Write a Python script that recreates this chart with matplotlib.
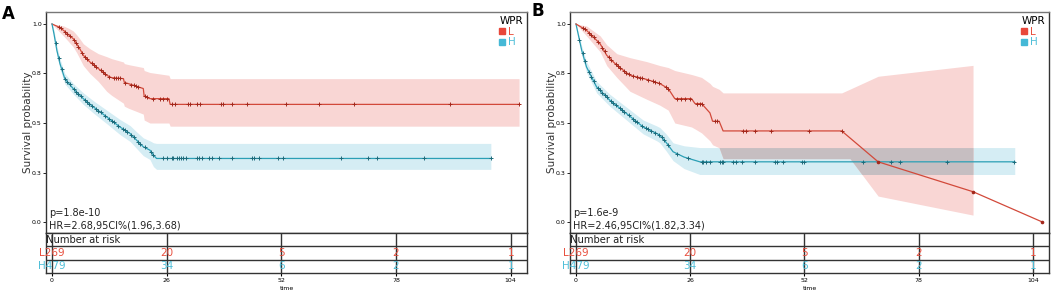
import numpy as np
import matplotlib.pyplot as plt
from matplotlib.lines import Line2D

# ---------------- data ----------------
# panel A, group L (low WPR)
a_l_t = [0, 1.5, 2.6, 3.8, 4.8, 5.6, 6.3, 7.1, 8.6, 10.5, 12.4, 13.5, 16.2, 16.4, 17.3, 20.7,
         20.9, 22.2, 26.5, 26.8, 105.9]
a_l_s = [1.0, 0.985, 0.968, 0.945, 0.926, 0.90, 0.875, 0.842, 0.808, 0.775, 0.741, 0.729, 0.724,
         0.705, 0.699, 0.674, 0.635, 0.623, 0.623, 0.594, 0.594]
a_l_hi = [1.0, 0.995, 0.99, 0.978, 0.965, 0.945, 0.925, 0.90, 0.875, 0.85, 0.835, 0.825, 0.808,
          0.80, 0.795, 0.78, 0.765, 0.755, 0.741, 0.724, 0.724]
a_l_lo = [1.0, 0.965, 0.94, 0.91, 0.885, 0.855, 0.825, 0.79, 0.75, 0.71, 0.66, 0.64, 0.60,
          0.585, 0.575, 0.545, 0.515, 0.50, 0.50, 0.484, 0.484]
a_l_cens = [1.5, 2.0, 3.0, 3.5, 4.0, 5.0, 5.5, 6.0, 6.8, 7.5, 8.0, 9.0, 9.5, 10.0, 11.0, 11.5,
            12.0, 13.0, 14.0, 14.5, 15.0, 15.5, 16.5, 18.0, 18.5, 19.0, 19.5, 21.0, 21.5, 23.0,
            24.5, 25.2, 26.0, 27.1, 27.9, 30.9, 31.3, 32.8, 33.6, 38.3, 38.7, 40.7, 44.3, 53.1,
            60.5, 68.5, 90.2, 105.9]

# panel A, group H (high WPR)
a_h_t = [0, 0.45, 1.1, 1.8, 2.9, 4.8, 7.1, 9.4, 12.4, 15.4, 17.7, 19.2, 20.7, 22.2, 23.0, 23.7,
         99.5]
a_h_s = [1.0, 0.95, 0.867, 0.80, 0.724, 0.674, 0.623, 0.581, 0.531, 0.48, 0.447, 0.413, 0.38,
         0.363, 0.338, 0.321, 0.321]
a_h_hi = [1.0, 0.97, 0.89, 0.825, 0.75, 0.70, 0.652, 0.612, 0.565, 0.518, 0.487, 0.455, 0.425,
          0.41, 0.40, 0.397, 0.397]
a_h_lo = [1.0, 0.93, 0.845, 0.775, 0.698, 0.647, 0.594, 0.55, 0.497, 0.442, 0.407, 0.371, 0.335,
          0.316, 0.28, 0.266, 0.266]
a_h_cens = [0.8, 1.5, 2.2, 3.0, 3.5, 4.0, 5.0, 5.5, 6.0, 6.5, 7.5, 8.0, 8.5, 9.0, 10.0, 10.5, 11.0,
            12.0, 13.0, 13.5, 14.0, 15.0, 16.0, 16.5, 17.0, 18.0, 18.5, 19.5, 20.0, 21.0, 22.5,
            23.0, 25.2, 26.0, 27.1, 27.5, 28.3, 28.9, 29.2, 29.8, 30.4, 32.8, 33.4, 33.9, 35.7,
            36.2, 37.9, 40.7, 45.3, 45.8, 47.0, 51.3, 52.3, 65.5, 71.7, 73.6, 84.4, 99.5]

# panel B, group L
b_l_t = [0, 2.4, 5.5, 7.0, 9.3, 12.3, 16.1, 19.1, 21.0, 22.5, 26.3, 27.1, 28.6, 30.5, 31.1,
         32.6, 33.5, 60.5, 68.8, 90.4, 106.2]
b_l_s = [1.0, 0.968, 0.90, 0.842, 0.791, 0.741, 0.72, 0.699, 0.674, 0.623, 0.623, 0.598, 0.598,
         0.551, 0.509, 0.509, 0.46, 0.46, 0.304, 0.153, 0.0]
b_l_ci_t = [0, 2.4, 5.5, 7.0, 9.3, 12.3, 16.1, 19.1, 21.0, 22.5, 26.3, 27.1, 28.6, 30.5, 31.1,
            32.6, 33.5, 60.5, 62.4, 68.8, 90.4]
b_l_hi = [1.0, 0.99, 0.94, 0.895, 0.85, 0.83, 0.81, 0.79, 0.78, 0.765, 0.745, 0.74, 0.73, 0.70,
          0.685, 0.67, 0.652, 0.652, 0.671, 0.736, 0.791]
b_l_lo = [1.0, 0.94, 0.86, 0.79, 0.73, 0.66, 0.62, 0.59, 0.565, 0.50, 0.48, 0.47, 0.45, 0.41,
          0.39, 0.375, 0.32, 0.32, 0.32, 0.131, 0.035]
b_l_cens = [1.5, 2.0, 3.0, 3.5, 4.0, 5.0, 6.0, 6.5, 7.5, 8.0, 9.0, 9.5, 10.0, 11.0, 11.5, 12.0,
            13.0, 14.0, 14.5, 15.0, 16.5, 17.5, 18.0, 19.0, 20.5, 21.0, 22.9, 24.0, 24.8, 25.9,
            27.5, 28.2, 28.6, 31.6, 32.2, 38.1, 38.7, 40.7, 44.3, 53.1, 60.5]
b_l_dots = [68.8, 90.4, 106.2]

# panel B, group H
b_h_t = [0, 1.3, 2.4, 4.7, 7.7, 11.5, 15.3, 18.4, 19.1, 20.6, 22.1, 24.6, 28.2, 99.9]
b_h_s = [1.0, 0.867, 0.783, 0.682, 0.615, 0.548, 0.48, 0.447, 0.438, 0.40, 0.355, 0.328, 0.304,
         0.304]
b_h_hi = [1.0, 0.89, 0.81, 0.71, 0.645, 0.58, 0.515, 0.485, 0.477, 0.443, 0.40, 0.385, 0.376,
          0.376]
b_h_lo = [1.0, 0.845, 0.755, 0.652, 0.585, 0.515, 0.445, 0.41, 0.40, 0.357, 0.31, 0.27, 0.24,
          0.24]
b_h_cens = [0.8, 1.5, 2.0, 3.0, 3.5, 4.0, 5.0, 5.5, 6.0, 6.5, 7.0, 8.0, 8.5, 9.0, 10.0, 10.5,
            11.0, 12.0, 13.0, 13.5, 14.0, 15.0, 16.0, 16.5, 17.0, 18.0, 19.0, 19.5, 20.0, 21.0,
            23.0, 25.5, 28.6, 29.0, 29.7, 30.5, 32.8, 33.2, 33.5, 35.8, 36.4, 37.9, 40.7, 45.3,
            45.8, 47.2, 51.4, 51.9, 65.4, 71.8, 73.7, 84.5, 99.7]

risk_times = [0, 26, 52, 78, 104]
a_risk_l = ['L269', '20', '5', '2', '1']
a_risk_h = ['H479', '34', '6', '2', '1']
b_risk_l = ['L269', '20', '5', '2', '1']
b_risk_h = ['H479', '34', '6', '2', '1']

a_stats = ['p=1.8e-10', 'HR=2.68,95CI%(1.96,3.68)']
b_stats = ['p=1.6e-9', 'HR=2.46,95CI%(1.82,3.34)']

yticks = [0, 0.25, 0.5, 0.75, 1.0]
yticklabels = ['0.0', '0.3', '0.5', '0.8', '1.0']

# ---------------- style ----------------
RED_LINE = '#d2493a'
RED_MARK = '#a3281c'
RED_FILL = '#f9d6d4'
RED_TXT = '#e8503f'
BLUE_LINE = '#2b9fb5'
BLUE_MARK = '#1c6b7b'
BLUE_FILL = '#d5edf4'
BLUE_TXT = '#4fbfd8'
OVERLAP = '#c6bec1'
XLIM = (-1.36, 107.7)
YLIM = (-0.0554, 1.0605)


def draw_curve(ax, t, s, ci_t, lo, hi, cens, line, mark, fill):
    ax.fill_between(ci_t, lo, hi, color=fill, lw=0, zorder=1)
    ax.plot(t, s, color=line, lw=0.9, zorder=3)
    ax.plot(cens, np.interp(cens, t, s), ls='none', marker='+', ms=3.5, mew=0.7,
            color=mark, zorder=4)


fig = plt.figure(figsize=(10.52, 2.94), dpi=100)
W, H = 1052, 294


def panel(left_px, right_px, letter, letter_xy, stats, risk_l, risk_h):
    x0 = left_px / W
    w = (right_px - left_px) / W
    ax = fig.add_axes([x0, 1 - 233 / H, w, 221 / H])
    tab = fig.add_axes([x0, 1 - 273 / H, w, 40 / H])
    for a in (ax, tab):
        a.set_xlim(*XLIM)
        for sp in a.spines.values():
            sp.set_color('#333333')
            sp.set_linewidth(1.0)
    ax.spines['top'].set_color('#777777')
    ax.set_ylim(*YLIM)
    ax.set_yticks(yticks)
    ax.set_yticklabels(yticklabels)
    ax.tick_params(axis='y', labelsize=4.5, length=2, pad=1, width=0.6)
    ax.set_xticks([])
    ax.set_ylabel('Survival probability', fontsize=7.5, color='#333333')
    ax.yaxis.set_label_coords(-0.027, 0.5)

    ax.text(-0.7, 0.045, stats[0], fontsize=7, va='center', color='#222222')
    ax.text(-0.7, -0.017, stats[1], fontsize=7, va='center', color='#222222')

    handles = [Line2D([], [], ls='none', marker='s', ms=5, color='#e8473a'),
               Line2D([], [], ls='none', marker='s', ms=5, color='#45b8d6')]
    leg = ax.legend(handles, ['L', 'H'], title='WPR', loc='upper right', frameon=False,
                    fontsize=7.5, title_fontsize=7.5, handlelength=0.5, handletextpad=0.3,
                    labelspacing=0.05, borderaxespad=0.3, borderpad=0.1, alignment='left')
    for txt, c in zip(leg.get_texts(), [RED_TXT, BLUE_TXT]):
        txt.set_color(c)

    # risk table
    tab.set_ylim(0, 3)
    tab.axhline(1, color='#333333', lw=1.0)
    tab.axhline(2, color='#333333', lw=1.0)
    for rt in risk_times:
        tab.axvline(rt, color='#333333', lw=1.0)
    tab.set_yticks([])
    tab.set_xticks(risk_times)
    tab.tick_params(axis='x', labelsize=4.5, length=2.5, pad=1, width=0.8)
    tab.set_xlabel('time', fontsize=4.5, labelpad=2)
    tab.text(XLIM[0] + 0.1, 2.5, 'Number at risk', fontsize=7.2, va='center', ha='left',
             color='#222222')
    for rt, l, h in zip(risk_times, risk_l, risk_h):
        tab.text(rt, 1.5, l, fontsize=7.5, ha='center', va='center', color=RED_TXT)
        tab.text(rt, 0.5, h, fontsize=7.5, ha='center', va='center', color=BLUE_TXT)

    fig.text(letter_xy[0] / W, 1 - letter_xy[1] / H, letter, fontsize=12, fontweight='bold',
             ha='center', va='center')
    return ax


ax_a = panel(46, 527, 'A', (8, 14), a_stats, a_risk_l, a_risk_h)
draw_curve(ax_a, a_l_t, a_l_s, a_l_t, a_l_lo, a_l_hi, a_l_cens, RED_LINE, RED_MARK, RED_FILL)
draw_curve(ax_a, a_h_t, a_h_s, a_h_t, a_h_lo, a_h_hi, a_h_cens, BLUE_LINE, BLUE_MARK, BLUE_FILL)

ax_b = panel(570, 1049, 'B', (538, 11), b_stats, b_risk_l, b_risk_h)
draw_curve(ax_b, b_h_t, b_h_s, b_h_t, b_h_lo, b_h_hi, b_h_cens, BLUE_LINE, BLUE_MARK, BLUE_FILL)
draw_curve(ax_b, b_l_t, b_l_s, b_l_ci_t, b_l_lo, b_l_hi, b_l_cens, RED_LINE, RED_MARK, RED_FILL)
ax_b.plot(b_l_dots, np.interp(b_l_dots, b_l_t, b_l_s), ls='none', marker='o', ms=1.6,
          color=RED_MARK, zorder=4)

# where the two bands of panel B overlap the colours mix to grey
grid = np.linspace(0, b_l_ci_t[-1], 2000)
o_lo = np.maximum(np.interp(grid, b_l_ci_t, b_l_lo), np.interp(grid, b_h_t, b_h_lo))
o_hi = np.minimum(np.interp(grid, b_l_ci_t, b_l_hi), np.interp(grid, b_h_t, b_h_hi))
ax_b.fill_between(grid, o_lo, o_hi, where=o_hi > o_lo, color=OVERLAP, lw=0, zorder=2)

fig.savefig('out.png', dpi=100)
